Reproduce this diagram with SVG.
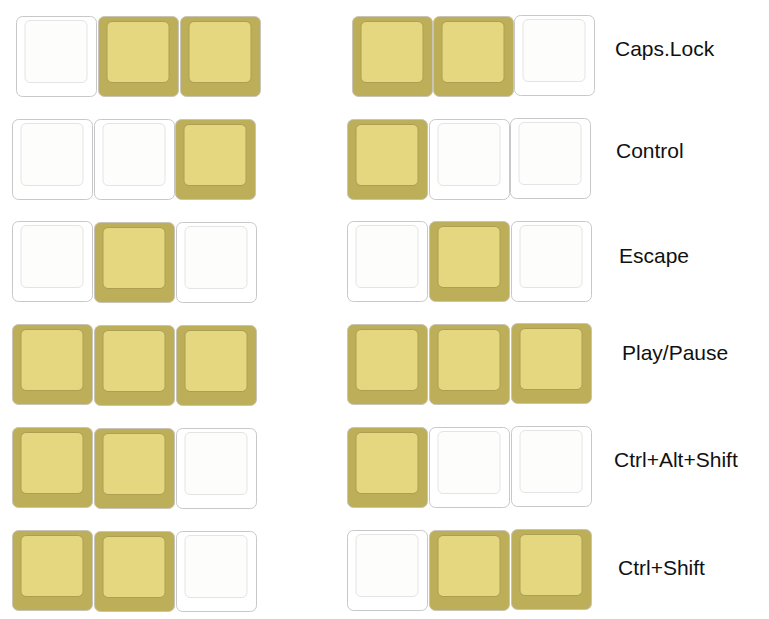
<svg xmlns="http://www.w3.org/2000/svg" xmlns:xlink="http://www.w3.org/1999/xlink" width="769" height="619" viewBox="0 0 769 619">
<style>
.label{font-family:"Liberation Sans",Arial,sans-serif;font-size:21px;fill:#111}
</style>
<defs>
<g id="on">
<rect x="0.5" y="0.5" width="80" height="80" rx="6" fill="#bdaf5a" stroke="#c8c4b8" stroke-width="1"/>
<rect x="9" y="5.5" width="62" height="61" rx="5" fill="#e5d77f" stroke="#ac9f52" stroke-width="1"/>
</g>
<g id="off">
<rect x="0.5" y="0.5" width="80" height="80" rx="6" fill="#ffffff" stroke="#c8c8c8" stroke-width="1"/>
<rect x="9" y="4.5" width="62" height="62" rx="5" fill="#fdfdfb" stroke="#e4e4e4" stroke-width="1"/>
</g>
</defs>
<rect width="769" height="619" fill="#ffffff"/>
<g id="row-capslock">
<use id="k1a" xlink:href="#off" x="16" y="16"/>
<use id="k1b" xlink:href="#on" x="98" y="16"/>
<use id="k1c" xlink:href="#on" x="180" y="16"/>
<use id="k1d" xlink:href="#on" x="352" y="16"/>
<use id="k1e" xlink:href="#on" x="433" y="16"/>
<use id="k1f" xlink:href="#off" x="514" y="15"/>
<text class="label" x="615" y="56">Caps.Lock</text>
</g>
<g id="row-control">
<use id="k2a" xlink:href="#off" x="12" y="119"/>
<use id="k2b" xlink:href="#off" x="94" y="119"/>
<use id="k2c" xlink:href="#on" x="175" y="119"/>
<use id="k2d" xlink:href="#on" x="347" y="119"/>
<use id="k2e" xlink:href="#off" x="429" y="119"/>
<use id="k2f" xlink:href="#off" x="510" y="118"/>
<text class="label" x="616" y="158">Control</text>
</g>
<g id="row-escape">
<use id="k3a" xlink:href="#off" x="12" y="221"/>
<use id="k3b" xlink:href="#on" x="94" y="222"/>
<use id="k3c" xlink:href="#off" x="176" y="222"/>
<use id="k3d" xlink:href="#off" x="347" y="221"/>
<use id="k3e" xlink:href="#on" x="429" y="221"/>
<use id="k3f" xlink:href="#off" x="511" y="221"/>
<text class="label" x="619" y="263">Escape</text>
</g>
<g id="row-playpause">
<use id="k4a" xlink:href="#on" x="12" y="324"/>
<use id="k4b" xlink:href="#on" x="94" y="325"/>
<use id="k4c" xlink:href="#on" x="176" y="325"/>
<use id="k4d" xlink:href="#on" x="347" y="324"/>
<use id="k4e" xlink:href="#on" x="429" y="324"/>
<use id="k4f" xlink:href="#on" x="511" y="323"/>
<text class="label" x="622" y="360">Play/Pause</text>
</g>
<g id="row-ctrlaltshift">
<use id="k5a" xlink:href="#on" x="12" y="427"/>
<use id="k5b" xlink:href="#on" x="94" y="428"/>
<use id="k5c" xlink:href="#off" x="176" y="428"/>
<use id="k5d" xlink:href="#on" x="347" y="427"/>
<use id="k5e" xlink:href="#off" x="429" y="427"/>
<use id="k5f" xlink:href="#off" x="511" y="426"/>
<text class="label" x="614" y="467">Ctrl+Alt+Shift</text>
</g>
<g id="row-ctrlshift">
<use id="k6a" xlink:href="#on" x="12" y="530"/>
<use id="k6b" xlink:href="#on" x="94" y="531"/>
<use id="k6c" xlink:href="#off" x="176" y="531"/>
<use id="k6d" xlink:href="#off" x="347" y="530"/>
<use id="k6e" xlink:href="#on" x="429" y="530"/>
<use id="k6f" xlink:href="#on" x="511" y="529"/>
<text class="label" x="618" y="575">Ctrl+Shift</text>
</g>
<g id="connectors"/>
</svg>
